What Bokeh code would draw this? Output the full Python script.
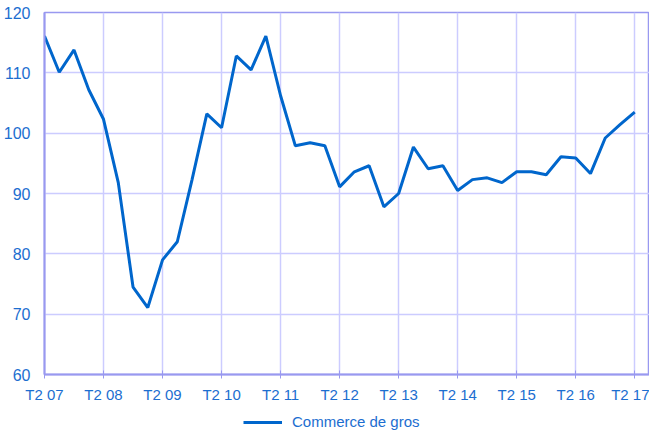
from bokeh.plotting import figure
from bokeh.layouts import column
from bokeh.models import Range1d, FixedTicker, Legend, LegendItem
from bokeh.embed import file_html
from bokeh.resources import INLINE

quarters = list(range(41))
values = [116.1, 110.1, 113.8, 107.2, 102.3, 91.8, 74.5, 71.1, 79.0, 82.0,
          92.3, 103.2, 100.9, 112.8, 110.5, 116.1, 106.2, 97.9, 98.4, 97.9,
          91.1, 93.6, 94.6, 87.8, 90.0, 97.7, 94.1, 94.6, 90.5, 92.3,
          92.6, 91.8, 93.6, 93.6, 93.1, 96.1, 95.9, 93.3, 99.2, 101.4, 103.5]
tick_pos = [0, 4, 8, 12, 16, 20, 24, 28, 32, 36, 40]
tick_labels = ["T2 07", "T2 08", "T2 09", "T2 10", "T2 11", "T2 12",
               "T2 13", "T2 14", "T2 15", "T2 16", "T2 17"]
series_name = "Commerce de gros"

LINE = "#0066CC"
TXT = "#1C6ED0"
GRID = "#CCCCFF"
AXIS = "#9999F0"
FONT = "Liberation Sans"

p = figure(width=649, height=405, output_backend="svg",
           toolbar_location=None,
           x_range=Range1d(0, 41), y_range=Range1d(60, 120),
           min_border_left=42, min_border_right=0, min_border_top=12,
           min_border_bottom=30)
p.outline_line_color = AXIS
p.outline_line_width = 1.5

r = p.line(quarters, values, line_color=LINE, line_width=3)

p.xaxis.ticker = FixedTicker(ticks=tick_pos)
p.xaxis.major_label_overrides = {t: l for t, l in zip(tick_pos, tick_labels)}
p.yaxis.ticker = FixedTicker(ticks=[60, 70, 80, 90, 100, 110, 120])

for ax in (p.xaxis[0], p.yaxis[0]):
    ax.axis_line_color = AXIS
    ax.axis_line_width = 2
    ax.major_tick_line_color = AXIS
    ax.minor_tick_line_color = None
    ax.major_label_text_color = TXT
    ax.major_label_text_font = FONT
    ax.major_label_text_font_size = "15px"
p.yaxis.major_label_text_font_size = "16px"
p.xaxis.major_tick_in = 4
p.xaxis.major_tick_out = 4
p.xaxis.major_label_standoff = 7
p.yaxis.major_tick_in = 0
p.yaxis.major_tick_out = 0
p.yaxis.major_label_standoff = 14

p.xgrid.ticker = FixedTicker(ticks=tick_pos)
p.xgrid.grid_line_color = GRID
p.xgrid.grid_line_width = 1.5
p.ygrid.grid_line_color = GRID
p.ygrid.grid_line_width = 1.5

# legend strip below the chart (series drawn outside its visible range,
# so only the legend entry shows)
lg = figure(width=649, height=25, output_backend="svg", toolbar_location=None,
            x_axis_type=None, y_axis_type=None,
            x_range=Range1d(0, 1), y_range=Range1d(0, 1),
            min_border=0)
lg.outline_line_color = None
lg.xgrid.visible = False
lg.ygrid.visible = False
lr = lg.line(quarters, values, line_color=LINE, line_width=3)
legend = Legend(items=[LegendItem(label=series_name, renderers=[lr])],
                orientation="horizontal", location=(199, 0),
                border_line_color=None, background_fill_alpha=0,
                label_text_font=FONT, label_text_font_size="15px",
                label_text_color=TXT, glyph_width=39, glyph_height=16,
                label_height=16, padding=0, margin=0, label_standoff=10)
lg.add_layout(legend)

layout = column(p, lg, spacing=0)
open("out.html", "w").write(file_html(layout, INLINE))
